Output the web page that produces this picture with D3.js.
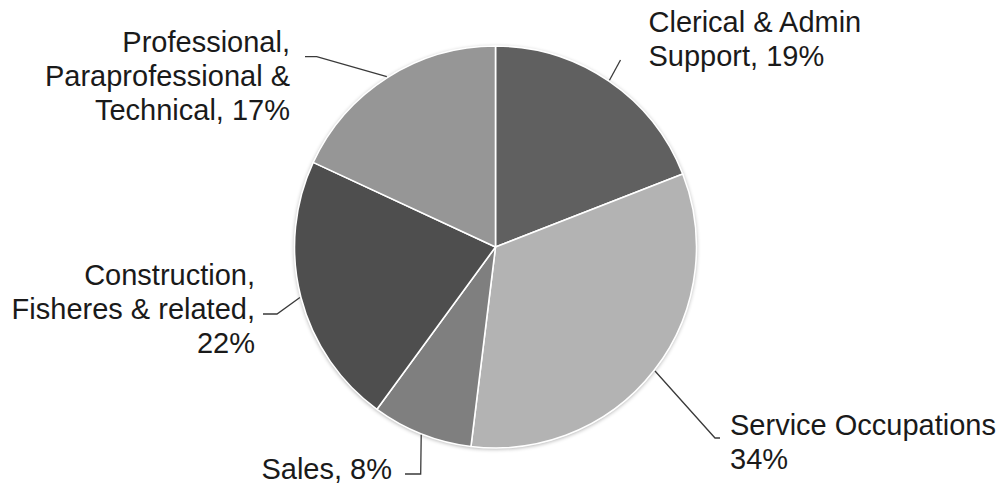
<!DOCTYPE html>
<html lang="en">
<head>
    <meta charset="UTF-8">
    <title>Occupations pie</title>
    <script src="https://cdn.jsdelivr.net/npm/d3@7"></script>
    <style>
        html, body { margin: 0; padding: 0; background: #fff; }
        text { font-family: "Liberation Sans", Arial, Helvetica, sans-serif; fill: #1a1a1a; }
    </style>
</head>
<body>
<script>

    // Data ////////////////////////////////////
    var categories = ['Clerical & Admin Support', 'Service Occupations', 'Sales',
        'Construction, Fisheres & related', 'Professional, Paraprofessional & Technical'];
    // slice sizes as drawn in the picture (labels carry the rounded figures)
    var shares = [19.1, 32.9, 8.1, 21.9, 18.1];
    var labelLines = [
        ['Clerical & Admin', 'Support, 19%'],
        ['Service Occupations', '34%'],
        ['Sales, 8%'],
        ['Construction,', 'Fisheres & related,', '22%'],
        ['Professional,', 'Paraprofessional &', 'Technical, 17%']
    ];
    var colors = ['#606060', '#b3b3b3', '#7f7f7f', '#4e4e4e', '#969696'];

    // Layout ////////////////////////////////////
    var width = 1003, height = 488;
    var cx = 495.5, cy = 247, radius = 201;
    var fontSize = 29, lineH = 34;

    // leader line bends (relative to pie centre) and label anchor
    var labelLayout = [
        {pts: [[125, -187]], tx: 153, ty: -215, anchor: 'start'},
        {pts: [[219.5, 191], [224.5, 191]], tx: 234.5, ty: 188, anchor: 'start'},
        {pts: [[-74.8, 227], [-90.5, 227]], tx: -103.5, ty: 232, anchor: 'end'},
        {pts: [[-218.5, 67], [-232.5, 67]], tx: -240.5, ty: 38, anchor: 'end'},
        {pts: [[-178.8, -190.3], [-190.5, -190.3]], tx: -205.5, ty: -195, anchor: 'end'}
    ];

    var svg = d3.select('body').append('svg')
            .attr('width', width).attr('height', height);

    var defs = svg.append('defs');
    var shadow = defs.append('filter').attr('id', 'shadow')
            .attr('x', '-10%').attr('y', '-10%').attr('width', '120%').attr('height', '120%');
    shadow.append('feGaussianBlur').attr('in', 'SourceAlpha').attr('stdDeviation', 2.2).attr('result', 'blur');
    shadow.append('feOffset').attr('in', 'blur').attr('dx', 0).attr('dy', 1).attr('result', 'off');
    shadow.append('feComponentTransfer').attr('in', 'off').attr('result', 'soft')
            .append('feFuncA').attr('type', 'linear').attr('slope', 0.35);
    var merge = shadow.append('feMerge');
    merge.append('feMergeNode').attr('in', 'soft');
    merge.append('feMergeNode').attr('in', 'SourceGraphic');

    var g = svg.append('g').attr('transform', 'translate(' + cx + ',' + cy + ')');

    var pie = d3.pie().sort(null).value(function (d) { return d; });
    var arcs = pie(shares);
    var arc = d3.arc().innerRadius(0).outerRadius(radius);

    // shadow disc behind the slices
    g.append('circle').attr('r', radius).attr('fill', '#999').attr('filter', 'url(#shadow)');

    g.selectAll('path.slice')
            .data(arcs)
            .enter().append('path')
            .attr('class', 'slice')
            .attr('d', arc)
            .attr('fill', function (d, i) { return colors[i]; })
            .attr('stroke', '#fff')
            .attr('stroke-width', 1.6)
            .attr('stroke-linejoin', 'round');

    // Leader lines
    var line = d3.line();
    g.selectAll('path.leader')
            .data(arcs)
            .enter().append('path')
            .attr('class', 'leader')
            .attr('d', function (d, i) {
                var a = (d.startAngle + d.endAngle) / 2;
                var start = [Math.sin(a) * (radius + 1), -Math.cos(a) * (radius + 1)];
                return line([start].concat(labelLayout[i].pts));
            })
            .attr('fill', 'none')
            .attr('stroke', '#3a3a3a')
            .attr('stroke-width', 1.3);

    // Labels
    var labels = g.selectAll('text.label')
            .data(arcs)
            .enter().append('text')
            .attr('class', 'label')
            .attr('x', function (d, i) { return labelLayout[i].tx; })
            .attr('y', function (d, i) { return labelLayout[i].ty; })
            .attr('text-anchor', function (d, i) { return labelLayout[i].anchor; })
            .style('font-size', fontSize + 'px');

    labels.each(function (d, i) {
        var t = d3.select(this);
        labelLines[i].forEach(function (s, k) {
            t.append('tspan')
                    .attr('x', labelLayout[i].tx)
                    .attr('y', labelLayout[i].ty + k * lineH)
                    .text(s);
        });
    });

</script>
</body>
</html>
